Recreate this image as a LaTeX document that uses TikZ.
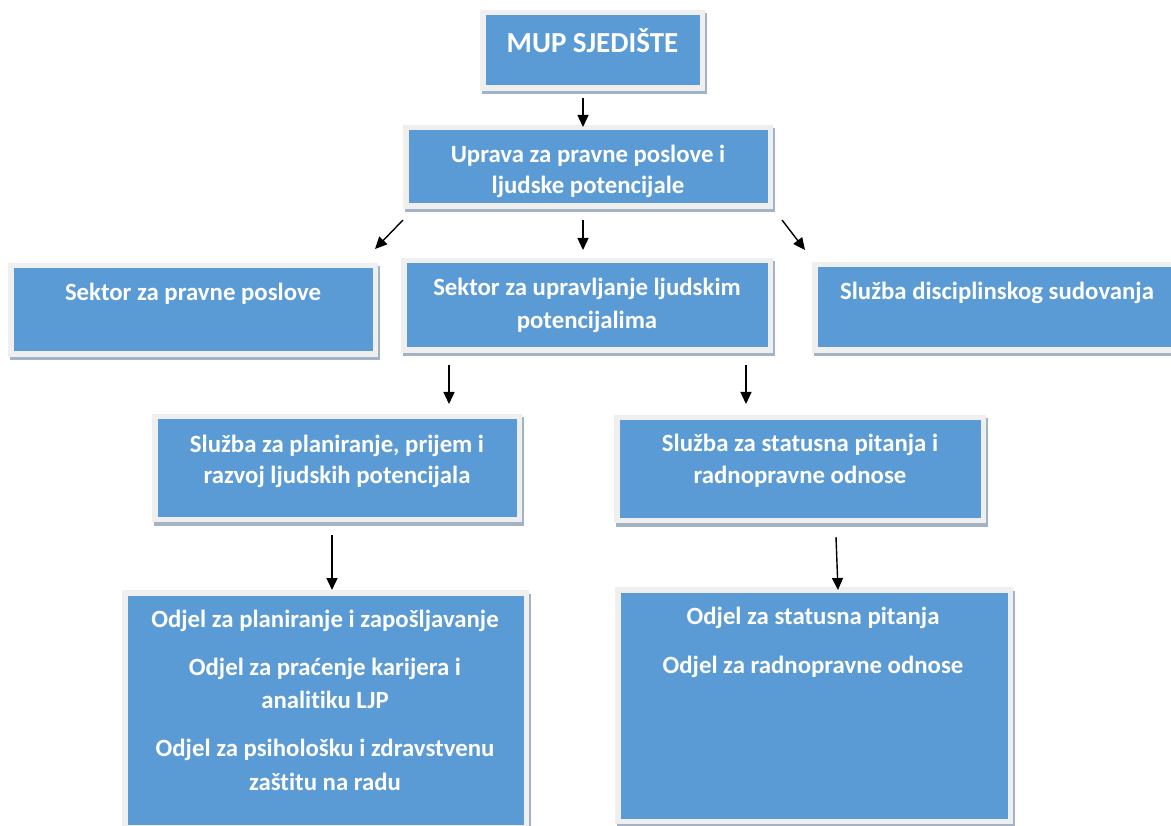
\documentclass[tikz,border=0pt]{standalone}
\usepackage{fontspec}
\setmainfont{Carlito}[Ligatures={NoCommon}]
\usetikzlibrary{arrows.meta,shadows}
\definecolor{boxblue}{HTML}{5B9BD5}
\definecolor{framegray}{HTML}{EFEFEF}
\definecolor{shadowc}{HTML}{A3B3C6}
\newcommand\topstrut{\rule{0pt}{0.85em}}
\begin{document}
\begin{tikzpicture}[x=1pt,y=-1pt,
  orgbox/.style={draw=framegray, line width=5.5pt, fill=boxblue, inner sep=0pt,
    general shadow={fill=shadowc, draw=shadowc, line width=5.5pt, shadow xshift=2pt, shadow yshift=-3.5pt}},
  txt/.style={text=white, font=\fontsize{24.8}{32}\selectfont\bfseries, align=center, inner sep=0pt, anchor=north},
  conn/.style={line width=1.4pt, -{Triangle[width=11pt,length=12pt]}}]
\useasboundingbox[fill=white] (0,0) rectangle (1171,826);

% boxes
\node[orgbox, minimum width=219.5pt, minimum height=75.5pt] (b1) at (592.5,50.5) {};
\node[orgbox, minimum width=364.5pt, minimum height=78.5pt] (b2) at (588,167) {};
\node[orgbox, minimum width=364.5pt, minimum height=88.5pt] (b3) at (193,310) {};
\node[orgbox, minimum width=366.5pt, minimum height=89.5pt] (b4) at (587,305.5) {};
\node[orgbox, minimum width=362.5pt, minimum height=85.5pt] (b5) at (996,307.5) {};
\node[orgbox, minimum width=364.5pt, minimum height=102.5pt] (b6) at (337,468) {};
\node[orgbox, minimum width=366.5pt, minimum height=102.5pt] (b7) at (800,469) {};
\node[orgbox, minimum width=401.5pt, minimum height=234.5pt] (b8) at (325.5,710) {};
\node[orgbox, minimum width=392.5pt, minimum height=231.5pt] (b9) at (814,705.5) {};

% texts
\node[txt, font=\fontsize{29}{34}\selectfont\bfseries] (t1) at (592.5,27.4) {\topstrut MUP SJEDIŠTE};
\node[txt, font=\fontsize{24.8}{31}\selectfont\bfseries] (t2) at (588,140.9) {\topstrut Uprava za pravne poslove i\\ljudske potencijale};
\node[txt] (t3) at (193,278.9) {\topstrut Sektor za pravne poslove};
\node[txt, font=\fontsize{24.8}{33}\selectfont\bfseries] (t4) at (587,273.9) {\topstrut Sektor za upravljanje ljudskim\\potencijalima};
\node[txt] (t5) at (997,277.9) {\topstrut Služba disciplinskog sudovanja};
\node[txt, font=\fontsize{24.8}{31}\selectfont\bfseries] (t6) at (337,430.9) {\topstrut Služba za planiranje, prijem i\\razvoj ljudskih potencijala};
\node[txt] (t7) at (800,429.9) {\topstrut Služba za statusna pitanja i\\radnopravne odnose};
\node[txt, font=\fontsize{24.8}{33.5}\selectfont\bfseries] (t8) at (325,605.9) {\topstrut Odjel za planiranje i zapošljavanje\\[14.5pt]Odjel za praćenje karijera i\\analitiku LJP\\[14.5pt]Odjel za psihološku i zdravstvenu\\zaštitu na radu};
\node[txt, font=\fontsize{24.8}{33}\selectfont\bfseries] (t9) at (813,602.9) {\topstrut Odjel za statusna pitanja\\[16pt]Odjel za radnopravne odnose};

% connector end points
\coordinate (a1s) at (583,98);  \coordinate (a1e) at (583,127);
\coordinate (a2s) at (403,220); \coordinate (a2e) at (375,249);
\coordinate (a3s) at (583,220); \coordinate (a3e) at (583,250);
\coordinate (a4s) at (782,220); \coordinate (a4e) at (805,250);
\coordinate (a5s) at (449,365); \coordinate (a5e) at (449,404);
\coordinate (a6s) at (746,365); \coordinate (a6e) at (746,404);
\coordinate (a7s) at (332,535); \coordinate (a7e) at (332,590);
\coordinate (a8s) at (836,537); \coordinate (a8e) at (838,590);

\draw[conn] (a1s) -- (a1e);
\draw[conn] (a2s) -- (a2e);
\draw[conn] (a3s) -- (a3e);
\draw[conn] (a4s) -- (a4e);
\draw[conn] (a5s) -- (a5e);
\draw[conn] (a6s) -- (a6e);
\draw[conn] (a7s) -- (a7e);
\draw[conn] (a8s) -- (a8e);
\end{tikzpicture}
\end{document}
